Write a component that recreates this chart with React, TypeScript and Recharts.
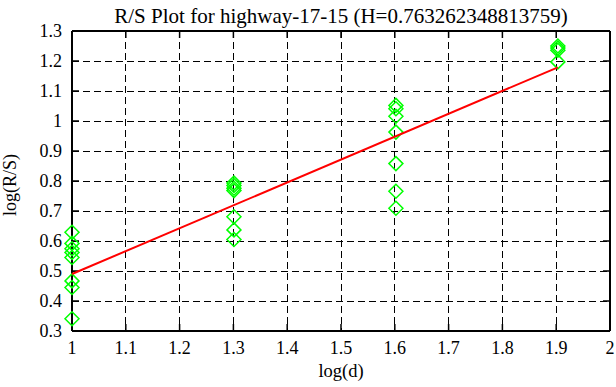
import React from 'react';
import { ScatterChart, Scatter, XAxis, YAxis, CartesianGrid, Label, ReferenceLine } from 'recharts';

// log10 of window sizes d = 10, 20, 40, 80
const logD = [1, 1.30103, 1.60206, 1.90309];
const rsAt10 = [0.629, 0.592, 0.574, 0.562, 0.545, 0.467, 0.445, 0.341];
const rsAt20 = [0.793, 0.785, 0.776, 0.768, 0.681, 0.637, 0.605];
const rsAt40 = [1.052, 1.041, 1.016, 0.963, 0.858, 0.766, 0.709];
const rsAt80 = [1.25, 1.243, 1.236, 1.197];
const fitX = [1, 1.90309];
const fitY = [0.49, 1.179];
const xTicks = [1, 1.1, 1.2, 1.3, 1.4, 1.5, 1.6, 1.7, 1.8, 1.9, 2];
const yTicks = [0.3, 0.4, 0.5, 0.6, 0.7, 0.8, 0.9, 1, 1.1, 1.2, 1.3];
const xDomain = [1, 2];
const yDomain = [0.3, 1.3];
const title = 'R/S Plot for highway-17-15 (H=0.763262348813759)';

const groups = [rsAt10, rsAt20, rsAt40, rsAt80];
const points = groups.flatMap((vals, i) => vals.map((v) => ({ x: logD[i], y: v })));
const fitData = fitX.map((x, i) => ({ x, y: fitY[i] }));

const FONT = "'Liberation Serif', 'Times New Roman', serif";
const TICK_LEN = 7;

const Diamond = (props: any) => {
  const { cx, cy } = props;
  const r = 7;
  return (
    <path
      d={`M${cx},${cy - r} L${cx + r},${cy} L${cx},${cy + r} L${cx - r},${cy} Z`}
      fill="none"
      stroke="#00ff00"
      strokeWidth={1.5}
    />
  );
};

const NoShape = () => <g />;
const NoTick = () => <g />;

const makeXTick = (label: string) => (props: any) => {
  const vb = props.viewBox || {};
  const x = vb.x;
  const top = Math.min(vb.y, vb.y + (vb.height || 0));
  const bottom = Math.max(vb.y, vb.y + (vb.height || 0));
  return (
    <g>
      <path d={`M${x},${bottom}L${x},${bottom - TICK_LEN}M${x},${top}L${x},${top + TICK_LEN}`} stroke="#000" strokeWidth={1.5} fill="none" />
      <text x={x} y={bottom + 23} textAnchor="middle" fontSize={18} fontFamily={FONT} fill="#000">
        {label}
      </text>
    </g>
  );
};

const makeYTick = (label: string) => (props: any) => {
  const vb = props.viewBox || {};
  const left = Math.min(vb.x, vb.x + (vb.width || 0));
  const right = Math.max(vb.x, vb.x + (vb.width || 0));
  const y = vb.y;
  return (
    <g>
      <path d={`M${left},${y}L${left + TICK_LEN},${y}M${right},${y}L${right - TICK_LEN},${y}`} stroke="#000" strokeWidth={1.5} fill="none" />
      <text x={left - 10} y={y + 6} textAnchor="end" fontSize={18} fontFamily={FONT} fill="#000">
        {label}
      </text>
    </g>
  );
};

const TitleLabel = (props: any) => {
  const vb = props.viewBox || { x: 72, y: 30, width: 538, height: 1 };
  return (
    <text x={vb.x + vb.width / 2} y={23} textAnchor="middle" fontSize={21} fontFamily={FONT} fill="#000">
      {title}
    </text>
  );
};

const XLabel = (props: any) => {
  const vb = props.viewBox || { x: 72, y: 331, width: 538, height: 56 };
  return (
    <text x={vb.x + vb.width / 2} y={vb.y + 46} textAnchor="middle" fontSize={18.5} fontFamily={FONT} fill="#000">
      log(d)
    </text>
  );
};

const YLabel = (props: any) => {
  const vb = props.viewBox || { x: 0, y: 31, width: 72, height: 300 };
  const x = vb.x + 16;
  const y = vb.y + vb.height / 2 + 4;
  return (
    <text x={x} y={y} transform={`rotate(-90, ${x}, ${y})`} textAnchor="middle" fontSize={18} fontFamily={FONT} fill="#000">
      log(R/S)
    </text>
  );
};

export default function App() {
  return (
    <div style={{ position: 'absolute', left: 0, top: 0, background: '#fff', fontFamily: FONT }}>
      <ScatterChart width={616} height={387} margin={{ top: 30, right: 5, bottom: 0, left: 0 }}>
        <CartesianGrid stroke="#000" strokeDasharray="7 4" strokeWidth={1} shapeRendering="crispEdges" />
        <CartesianGrid
          stroke="#000"
          strokeWidth={2}
          horizontalValues={yDomain}
          verticalValues={xDomain}
          shapeRendering="crispEdges"
        />
        <XAxis
          dataKey="x"
          type="number"
          domain={xDomain}
          ticks={xTicks}
          interval={0}
          height={56}
          tick={NoTick}
          axisLine={false}
          tickLine={false}
        >
          <Label content={XLabel} />
        </XAxis>
        <XAxis
          xAxisId="top"
          orientation="top"
          dataKey="x"
          type="number"
          domain={xDomain}
          ticks={xTicks}
          interval={0}
          height={1}
          tick={NoTick}
          axisLine={false}
          tickLine={false}
        >
          <Label content={TitleLabel} />
        </XAxis>
        <YAxis
          dataKey="y"
          type="number"
          domain={yDomain}
          ticks={yTicks}
          interval={0}
          width={72}
          tick={NoTick}
          axisLine={false}
          tickLine={false}
        >
          <Label content={YLabel} />
        </YAxis>
        <YAxis
          yAxisId="right"
          orientation="right"
          dataKey="y"
          type="number"
          domain={yDomain}
          ticks={yTicks}
          interval={0}
          width={1}
          tick={NoTick}
          axisLine={false}
          tickLine={false}
        />
        {xTicks.map((v) => (
          <ReferenceLine key={`xt${v}`} x={v} stroke="none" ifOverflow="visible" label={makeXTick(String(v))} />
        ))}
        {yTicks.map((v) => (
          <ReferenceLine key={`yt${v}`} y={v} stroke="none" ifOverflow="visible" label={makeYTick(String(v))} />
        ))}
        <ReferenceLine x={xDomain[0]} stroke="#000" strokeWidth={2} ifOverflow="visible" />
        <ReferenceLine x={xDomain[1]} stroke="#000" strokeWidth={2} ifOverflow="visible" />
        <ReferenceLine y={yDomain[0]} stroke="#000" strokeWidth={2} ifOverflow="visible" />
        <ReferenceLine y={yDomain[1]} stroke="#000" strokeWidth={2} ifOverflow="visible" />
        <Scatter data={points} shape={Diamond} isAnimationActive={false} />
        <Scatter
          data={fitData}
          shape={NoShape}
          line={{ stroke: '#ff0000', strokeWidth: 2 }}
          isAnimationActive={false}
        />
      </ScatterChart>
    </div>
  );
}
